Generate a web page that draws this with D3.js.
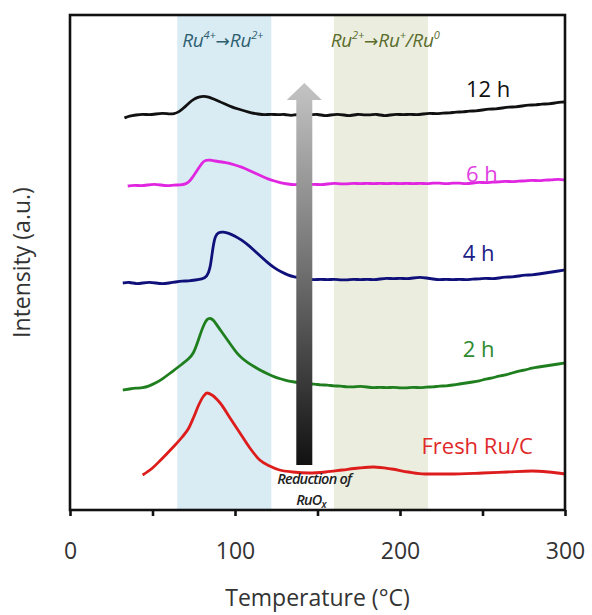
<!DOCTYPE html>
<html>
<head>
<meta charset="utf-8">
<script src="https://cdn.jsdelivr.net/npm/d3@7"></script>
<style>
  html, body { margin: 0; padding: 0; background: #fff; }
  svg { display: block; }
</style>
</head>
<body>
<div id="chart"></div>
<script>
// ---------- data (temperature °C, intensity a.u. incl. vertical offset) ----------
const xTicks = [0, 50, 100, 150, 200, 250, 300];
const xTickLabels = ["0", "", "100", "", "200", "", "300"];
const bandRu4 = [65, 122];
const bandRu2 = [160, 217];

const seriesNames = ["12 h", "6 h", "4 h", "2 h", "Fresh Ru/C"];
const seriesColors = ["#111111", "#e026e0", "#10107a", "#1f7f1f", "#dd1c1c"];
const labelColors = ["#111111", "#e040e0", "#1c1c86", "#2e8a2e", "#e02a2a"];

const data12h = [[33,392],[36,394],[40,395],[44,396],[48,395],[52,396],[56,397],[60,396],[63,396],[66,398],[69,402],[72,407],[75,411],[78,413],[81,414],[84,413],[87,411],[90,409],[94,406],[98,403],[102,401],[106,399],[110,397],[114,396],[118,395],[122,396],[126,395],[130,396],[134,394],[138,396],[142,395],[146,395],[150,396],[154,394],[158,395],[162,396],[166,395],[170,394],[174,396],[178,395],[182,395],[186,396],[190,394],[194,395],[198,396],[202,395],[206,396],[210,395],[214,396],[218,397],[222,396],[226,397],[230,397],[234,398],[238,398],[242,399],[246,399],[250,400],[254,401],[258,401],[262,402],[266,403],[270,403],[274,404],[278,405],[282,405],[286,406],[290,406],[294,407],[298,408],[300,408]];

const data6h = [[35,324],[39,325],[43,324],[47,325],[51,326],[55,325],[59,324],[63,325],[67,325],[70,326],[72,328],[74,332],[76,337],[78,342],[80,347],[82,350],[85,350],[88,349],[92,348],[96,347],[100,345],[104,343],[108,340],[112,337],[116,334],[120,331],[124,329],[128,327],[132,326],[136,325],[140,326],[144,325],[148,326],[152,325],[156,326],[160,327],[164,326],[168,326],[172,327],[176,326],[180,327],[184,326],[188,327],[192,326],[196,327],[200,326],[204,327],[208,326],[212,327],[216,326],[220,327],[224,327],[228,326],[232,327],[236,327],[240,326],[244,327],[248,328],[252,327],[256,328],[260,328],[264,329],[268,328],[272,329],[276,329],[280,330],[284,329],[288,330],[292,330],[296,331],[300,330]];

const data4h = [[32,227],[36,228],[40,226],[44,227],[48,228],[52,227],[56,226],[60,227],[64,228],[68,229],[72,229],[76,230],[80,231],[83,233],[85,242],[86,255],[87,266],[88,274],[90,278],[93,278],[96,277],[100,274],[104,270],[108,265],[112,259],[116,253],[120,247],[124,242],[128,238],[132,235],[136,233],[140,232],[144,231],[148,230],[152,231],[156,230],[160,231],[164,230],[168,230],[172,231],[176,230],[180,231],[184,230],[188,231],[192,232],[196,231],[200,232],[204,231],[208,232],[212,233],[216,232],[220,231],[224,230],[228,231],[232,230],[236,231],[240,230],[244,231],[248,231],[252,232],[256,231],[260,232],[264,233],[268,233],[272,234],[276,235],[280,235],[284,236],[288,237],[292,238],[296,239],[300,240]];

const data2h = [[32,120],[36,121],[40,122],[44,122],[48,124],[52,127],[56,131],[60,136],[64,141],[68,146],[72,151],[75,157],[77,166],[79,176],[81,185],[83,191],[85,192],[87,190],[89,185],[92,178],[95,171],[98,164],[101,157],[104,152],[108,147],[112,143],[116,139],[120,136],[124,133],[128,131],[132,129],[136,128],[140,127],[144,126],[148,126],[152,125],[156,125],[160,124],[164,124],[168,123],[172,123],[176,124],[180,123],[184,122],[188,123],[192,122],[196,123],[200,122],[204,122],[208,123],[212,122],[216,123],[220,123],[224,124],[228,124],[232,125],[236,126],[240,127],[244,128],[248,129],[252,131],[256,132],[260,134],[264,135],[268,137],[272,139],[276,140],[280,142],[284,143],[288,144],[292,145],[296,146],[300,147]];

const dataFresh = [[44,35],[50,42],[55,50],[62,62],[68,73],[72,82],[75,93],[78,105],[81,114],[83,117],[86,115],[91,107],[97,92],[103,77],[109,62],[115,50],[121,44],[127,40],[135,38],[145,37],[155,38],[165,40],[175,42],[184,43],[195,41],[205,38],[215,36],[230,36],[250,37],[265,38],[280,39],[290,38],[300,36]];

const seriesData = [data12h, data6h, data4h, data2h, dataFresh];
// label anchor positions (temperature, intensity)
const labelPos = [[240,413],[240,328],[238,249],[238,153],[213,56]];

// ---------- layout ----------
const W = 592, H = 615;
const m = { left: 70, right: 27, top: 15, bottom: 105 };
const svg = d3.select("#chart").append("svg").attr("width", W).attr("height", H);

const x = d3.scaleLinear().domain([0, 300]).range([m.left, W - m.right]);
const y = d3.scaleLinear().domain([0, 495]).range([H - m.bottom, m.top]);

const FONT = "'Open Sans', 'Noto Sans', sans-serif";

// bands
svg.append("rect").attr("x", x(bandRu4[0])).attr("y", y(495))
  .attr("width", x(bandRu4[1]) - x(bandRu4[0])).attr("height", y(0) - y(495))
  .attr("fill", "#d9ebf3");
svg.append("rect").attr("x", x(bandRu2[0])).attr("y", y(495))
  .attr("width", x(bandRu2[1]) - x(bandRu2[0])).attr("height", y(0) - y(495))
  .attr("fill", "#ebeedf");

// band labels
function supLabel(tx, parts, color) {
  const t = svg.append("text").attr("x", tx).attr("y", 47)
    .attr("font-family", FONT).attr("font-style", "italic")
    .attr("font-size", 19).attr("letter-spacing", -0.2).attr("fill", color);
  parts.forEach(p => {
    const s = t.append("tspan").text(p[0]);
    if (p[1] === 1) s.attr("font-size", 11).attr("dy", -8);
    else if (p[1] === 0) s.attr("dy", 8);
    else if (p[1] === 2) s.attr("dy", 8).attr("font-family", "'DejaVu Sans'")
      .attr("font-style", "normal").attr("font-size", 17).attr("letter-spacing", 0);
  });
}
supLabel(x(68), [["Ru"],["4+",1],["\u2192",2],["Ru"],["2+",1]], "#2e5f70");
supLabel(x(158), [["Ru"],["2+",1],["\u2192",2],["Ru"],["+",1],["/Ru",0],["0",1]], "#5a6c2c");

// curves
const line = d3.line().x(d => x(d[0])).y(d => y(d[1]));
seriesData.forEach((s, i) => {
  svg.append("path").datum(s)
    .attr("d", line.curve(i === 4 ? d3.curveMonotoneX : d3.curveBasis)(s))
    .attr("fill", "none").attr("stroke", seriesColors[i])
    .attr("stroke-width", 2.8).attr("stroke-linejoin", "round");
});

// series labels
seriesNames.forEach((n, i) => {
  svg.append("text").attr("x", x(labelPos[i][0])).attr("y", y(labelPos[i][1]))
    .attr("font-family", FONT).attr("font-size", 22)
    .attr("fill", labelColors[i]).text(n);
});

// arrow with gradient
const defs = svg.append("defs");
const grad = defs.append("linearGradient").attr("id", "ag")
  .attr("x1", 0).attr("y1", 0).attr("x2", 0).attr("y2", 1);
grad.append("stop").attr("offset", "0%").attr("stop-color", "#c4c4c4");
grad.append("stop").attr("offset", "50%").attr("stop-color", "#6e6e6e");
grad.append("stop").attr("offset", "100%").attr("stop-color", "#111111");
const ax = x(142), aTop = y(427), aNeck = y(410), aBot = y(45);
const hw = 17.5, sw = 8;
svg.append("path")
  .attr("d", `M${ax},${aTop} L${ax + hw},${aNeck} L${ax + sw},${aNeck} L${ax + sw},${aBot} L${ax - sw},${aBot} L${ax - sw},${aNeck} L${ax - hw},${aNeck} Z`)
  .attr("fill", "url(#ag)");

// reduction text
const rt = svg.append("text").attr("font-family", FONT).attr("font-style", "italic")
  .attr("font-weight", 600).attr("font-size", 14.5).attr("letter-spacing", -0.8)
  .attr("fill", "#222").attr("text-anchor", "middle");
rt.append("tspan").attr("x", x(148)).attr("y", 484).text("Reduction of");
rt.append("tspan").attr("x", x(146)).attr("y", 505).text("RuO");
rt.append("tspan").attr("font-size", 10).attr("dy", 3).text("x");

// frame
svg.append("rect").attr("x", x(0)).attr("y", y(495))
  .attr("width", x(300) - x(0)).attr("height", y(0) - y(495))
  .attr("fill", "none").attr("stroke", "#111").attr("stroke-width", 2.6);

// x axis
const xAxis = d3.axisBottom(x).tickValues(xTicks)
  .tickFormat((d, i) => xTickLabels[i]).tickSize(6).tickSizeOuter(0).tickPadding(27);
const gx = svg.append("g").attr("transform", `translate(0,${y(0)})`).call(xAxis);
gx.select(".domain").remove();
gx.selectAll(".tick line").attr("stroke", "#111").attr("stroke-width", 2.6);
gx.selectAll(".tick text").attr("font-family", FONT).attr("font-size", 23).attr("fill", "#333");

// axis titles
svg.append("text").attr("x", (x(0) + x(300)) / 2).attr("y", 606)
  .attr("text-anchor", "middle").attr("font-family", FONT).attr("font-size", 23)
  .attr("fill", "#333").text("Temperature (\u00B0C)");
svg.append("text").attr("transform", `translate(30,${(y(0) + y(495)) / 2}) rotate(-90)`)
  .attr("text-anchor", "middle").attr("font-family", FONT).attr("font-size", 23)
  .attr("fill", "#333").text("Intensity (a.u.)");
</script>
</body>
</html>
